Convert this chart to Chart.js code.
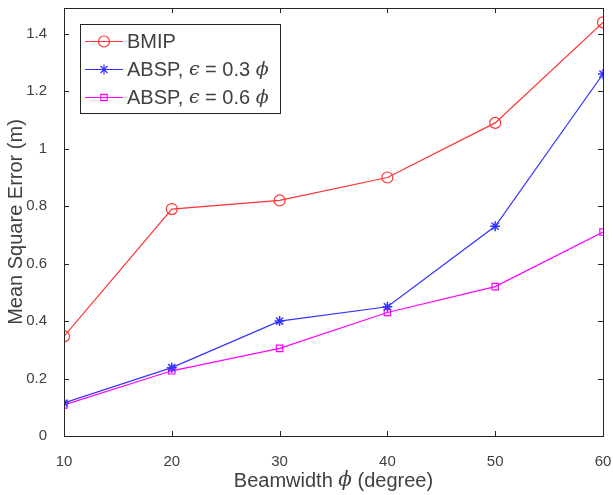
<!DOCTYPE html>
<html>
<head>
<meta charset="utf-8">
<script src="https://cdn.jsdelivr.net/npm/chart.js@4"></script>
<style>
  html, body { margin: 0; padding: 0; background: #fff; }
  #wrap { width: 613px; height: 495px; }
</style>
</head>
<body>
<div id="wrap"><canvas id="chart" width="613" height="495"></canvas></div>
<script>
// Data
const beamwidths = [10, 20, 30, 40, 50, 60];
const bmip = [0.347, 0.79, 0.82, 0.90, 1.09, 1.44];
const absp03 = [0.115, 0.238, 0.40, 0.45, 0.73, 1.26];
const absp06 = [0.108, 0.227, 0.305, 0.43, 0.52, 0.71];
const yTicks = [0, 0.2, 0.4, 0.6, 0.8, 1, 1.2, 1.4];
const xTicks = [10, 20, 30, 40, 50, 60];

const seriesNames = ['BMIP', 'ABSP, ', 'ABSP, '];
const epsValues = [null, '0.3', '0.6'];

const textColor = '#404040';
const axisColor = '#262626';
const sans = '"Liberation Sans", Arial, sans-serif';

function toPoints(ys) {
  return beamwidths.map((x, i) => ({ x, y: ys[i] }));
}

// Draws the Matlab-like box, inward ticks, x title and legend
const matlabPlugin = {
  id: 'matlab',
  afterDraw(chart) {
    const ctx = chart.ctx;
    const a = chart.chartArea;
    const xs = chart.scales.x;
    const ys = chart.scales.y;
    ctx.save();
    ctx.strokeStyle = axisColor;
    ctx.lineWidth = 1;
    ctx.strokeRect(Math.round(a.left) + 0.5, Math.round(a.top) + 0.5,
      Math.round(a.right - a.left), Math.round(a.bottom - a.top));
    const tl = 5;
    ctx.beginPath();
    xTicks.forEach(v => {
      const px = Math.round(xs.getPixelForValue(v)) + 0.5;
      ctx.moveTo(px, a.bottom); ctx.lineTo(px, a.bottom - tl);
      ctx.moveTo(px, a.top); ctx.lineTo(px, a.top + tl);
    });
    yTicks.forEach(v => {
      const py = Math.round(ys.getPixelForValue(v)) + 0.5;
      ctx.moveTo(a.left, py); ctx.lineTo(a.left + tl, py);
      ctx.moveTo(a.right, py); ctx.lineTo(a.right - tl, py);
    });
    ctx.stroke();

    // x axis title with italic phi
    const base = '20px ' + sans;
    const ital = 'italic 20px "DejaVu Serif", serif';
    const parts = [['Beamwidth ', base], ['\u03D5', ital], [' (degree)', base]];
    let total = 0;
    parts.forEach(p => { ctx.font = p[1]; total += ctx.measureText(p[0]).width; });
    let x = (a.left + a.right) / 2 - total / 2;
    ctx.fillStyle = textColor;
    ctx.textBaseline = 'middle';
    parts.forEach(p => {
      ctx.font = p[1];
      ctx.fillText(p[0], x, 481);
      x += ctx.measureText(p[0]).width;
    });

    // legend
    const lx = 80, ly = 24, lw = 200, lh = 89;
    ctx.fillStyle = '#fff';
    ctx.fillRect(lx, ly, lw, lh);
    ctx.strokeStyle = axisColor;
    ctx.lineWidth = 1;
    ctx.strokeRect(lx + 0.5, ly + 0.5, lw, lh);
    chart.data.datasets.forEach((ds, i) => {
      const cy = ly + 17.5 + i * 28;
      ctx.strokeStyle = ds.borderColor;
      ctx.lineWidth = 1.2;
      ctx.beginPath();
      ctx.moveTo(lx + 5, cy); ctx.lineTo(lx + 43, cy);
      ctx.stroke();
      ctx.fillStyle = 'rgba(0,0,0,0)';
      Chart.helpers.drawPoint(ctx, {
        pointStyle: ds.pointStyle, radius: ds.pointRadius,
        borderWidth: ds.pointBorderWidth, rotation: 0
      }, lx + 24, cy);
      ctx.fillStyle = textColor;
      let tx = lx + 47;
      ctx.font = '20px ' + sans;
      ctx.fillText(seriesNames[i], tx, cy + 1);
      tx += ctx.measureText(seriesNames[i]).width;
      if (epsValues[i]) {
        ctx.font = 'italic 19px "DejaVu Serif", serif';
        ctx.fillText('\u03F5', tx, cy + 1);
        tx += ctx.measureText('\u03F5').width;
        ctx.font = '20px ' + sans;
        const s = ' = ' + epsValues[i] + ' ';
        ctx.fillText(s, tx, cy + 1);
        tx += ctx.measureText(s).width;
        ctx.font = 'italic 19px "DejaVu Serif", serif';
        ctx.fillText('\u03D5', tx, cy + 1);
      }
    });
    ctx.restore();
  }
};

new Chart(document.getElementById('chart'), {
  type: 'line',
  data: {
    datasets: [
      {
        label: 'BMIP',
        data: toPoints(bmip),
        borderColor: '#ff3333',
        backgroundColor: 'rgba(0,0,0,0)',
        pointStyle: 'circle',
        pointRadius: 5.5,
        borderWidth: 1.2,
        pointBorderWidth: 1.2
      },
      {
        label: 'ABSP, eps = 0.3 phi',
        data: toPoints(absp03),
        borderColor: '#3333ff',
        backgroundColor: 'rgba(0,0,0,0)',
        pointStyle: 'star',
        pointRadius: 5,
        borderWidth: 1.2,
        pointBorderWidth: 1.5
      },
      {
        label: 'ABSP, eps = 0.6 phi',
        data: toPoints(absp06),
        borderColor: '#ff00ff',
        backgroundColor: 'rgba(0,0,0,0)',
        pointStyle: 'rect',
        pointRadius: 4.5,
        borderWidth: 1.2,
        pointBorderWidth: 1.2
      }
    ]
  },
  options: {
    responsive: false,
    animation: false,
    layout: { padding: { left: 0, right: 10, top: 8, bottom: 0 } },
    plugins: { legend: { display: false }, tooltip: { enabled: false } },
    elements: { line: { tension: 0 } },
    scales: {
      x: {
        type: 'linear',
        min: 10,
        max: 60,
        afterBuildTicks: s => { s.ticks = xTicks.map(v => ({ value: v })); },
        afterFit: s => { s.height = 59; s.paddingLeft = 0; s.paddingRight = 0; },
        grid: { display: false },
        border: { display: false },
        ticks: { color: textColor, font: { family: sans, size: 15 }, padding: 9, maxRotation: 0 }
      },
      y: {
        min: 0,
        max: 1.49,
        afterBuildTicks: s => { s.ticks = yTicks.map(v => ({ value: v })); },
        afterFit: s => { s.width = 64; s.paddingTop = 0; s.paddingBottom = 0; },
        grid: { display: false },
        border: { display: false },
        ticks: {
          color: textColor,
          font: { family: sans, size: 15 },
          padding: 9,
          callback: v => String(Math.round(v * 10) / 10)
        },
        title: {
          display: true,
          text: 'Mean Square Error (m)',
          color: textColor,
          font: { family: sans, size: 20 },
          padding: { top: 4, bottom: 0 }
        }
      }
    }
  },
  plugins: [matlabPlugin]
});
</script>
</body>
</html>
